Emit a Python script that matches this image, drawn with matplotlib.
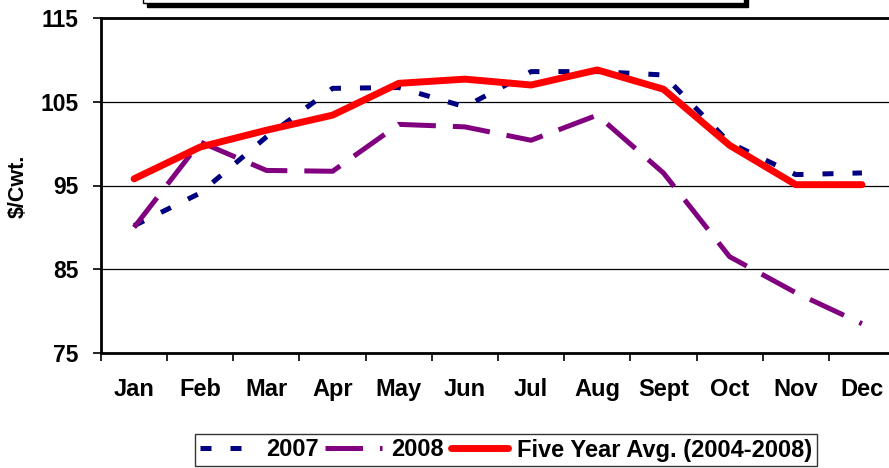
import matplotlib
matplotlib.use('Agg')
import matplotlib.pyplot as plt
from matplotlib.patches import Rectangle
import numpy as np

months = ['Jan', 'Feb', 'Mar', 'Apr', 'May', 'Jun', 'Jul', 'Aug', 'Sept', 'Oct', 'Nov', 'Dec']
price_2007 = [90.2, 94.1, 100.8, 106.6, 106.7, 104.4, 108.6, 108.6, 108.2, 100.1, 96.3, 96.5]
price_2008 = [90.0, 100.2, 96.8, 96.7, 102.3, 102.0, 100.4, 103.4, 96.5, 86.5, 82.2, 78.5]
five_year_avg = [95.8, 99.6, 101.6, 103.4, 107.2, 107.7, 107.0, 108.8, 106.5, 99.8, 95.1, 95.1]

plt.rcParams['font.family'] = ['Liberation Sans', 'DejaVu Sans']
plt.rcParams['font.weight'] = 'bold'

W, H = 889, 468
fig = plt.figure(figsize=(W / 100, H / 100), dpi=100)
ax = fig.add_axes([101 / W, 1 - 353 / H, 794 / W, 335 / H])

x = np.arange(len(months))
ax.plot(x, price_2007, color='#000080', lw=3.6, dashes=(2.2, 3.8), label='2007')
ax.plot(x, price_2008, color='#800080', lw=3.6, dashes=(7.5, 3.4), label='2008')
ax.plot(x, five_year_avg, color='#FF0000', lw=5, solid_capstyle='round',
        label='Five Year Avg. (2004-2008)')

ax.set_xlim(-0.5, 11.5)
ax.set_ylim(75, 115)
ax.set_yticks([75, 85, 95, 105, 115])
ax.set_xticks(x)
ax.set_xticklabels(months)
ax.set_xticks(np.arange(-0.5, 12, 1), minor=True)
ax.tick_params(axis='x', which='major', length=0, pad=18, labelsize=17)
ax.tick_params(axis='x', which='minor', length=6, width=1.2)
ax.tick_params(axis='y', length=6, width=1.2, labelsize=16.5, pad=10)
for lbl in ax.get_xticklabels() + ax.get_yticklabels():
    lbl.set_fontweight('bold')

ax.yaxis.grid(True, color='black', lw=0.9)
ax.set_axisbelow(True)
for side in ['left', 'bottom', 'top']:
    ax.spines[side].set_linewidth(2)
ax.spines['right'].set_visible(False)

fig.text(18 / W, 1 - 186 / H, '$/Cwt.', rotation=90, ha='center', va='center',
         fontsize=15.5, fontweight='bold')

leg = fig.legend(loc='center', bbox_to_anchor=(506 / W, 1 - 450 / H), ncol=3,
                 frameon=True, fancybox=False, edgecolor='black', fontsize=17,
                 handlelength=2.4, handletextpad=0.4, columnspacing=0.3,
                 borderpad=0.2)
leg.get_frame().set_linewidth(1)
for t in leg.get_texts():
    t.set_fontweight('bold')

# cut-off title box at the top
fig.patches.append(Rectangle((147 / W, 1 - 7 / H), 601 / W, 20 / H,
                             transform=fig.transFigure, facecolor='black',
                             edgecolor='black'))
fig.patches.append(Rectangle((143 / W, 1 - 3 / H), 601 / W, 20 / H,
                             transform=fig.transFigure, facecolor='white',
                             edgecolor='black', lw=1))

fig.savefig('out.png', dpi=100)
